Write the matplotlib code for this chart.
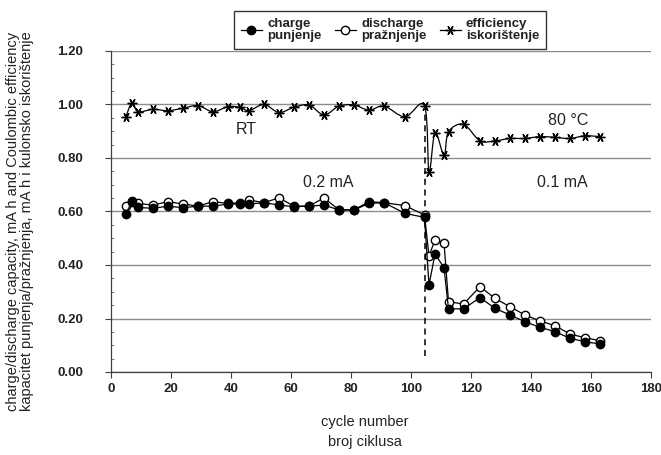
import matplotlib
matplotlib.use('Agg')
import matplotlib.pyplot as plt
from matplotlib.path import Path
from matplotlib.patches import PathPatch
from matplotlib.lines import Line2D
from matplotlib.ticker import MultipleLocator, FormatStrFormatter

plt.rcParams['font.family'] = ['Liberation Sans', 'DejaVu Sans']

# cycle numbers where charge / discharge / efficiency were recorded
cycles = [5, 7, 9, 14, 19, 24, 29, 34, 39, 43, 46, 51, 56, 61, 66, 71, 76, 81,
          86, 91, 98, 104.5, 106, 108, 111, 112.5, 117.5, 123, 128, 133, 138,
          143, 148, 153, 158, 163]

charge = [0.590, 0.641, 0.615, 0.612, 0.620, 0.614, 0.620, 0.620, 0.628, 0.628,
          0.628, 0.633, 0.624, 0.618, 0.620, 0.624, 0.606, 0.606, 0.630, 0.633,
          0.593, 0.578, 0.325, 0.441, 0.390, 0.236, 0.236, 0.278, 0.238, 0.213,
          0.188, 0.167, 0.151, 0.126, 0.113, 0.105]

discharge = [0.620, 0.635, 0.630, 0.624, 0.637, 0.628, 0.620, 0.637, 0.630, 0.633,
             0.643, 0.633, 0.651, 0.620, 0.620, 0.651, 0.606, 0.606, 0.637, 0.633,
             0.622, 0.587, 0.434, 0.493, 0.483, 0.263, 0.254, 0.319, 0.275, 0.244,
             0.213, 0.191, 0.173, 0.142, 0.128, 0.117]

efficiency = [0.955, 1.007, 0.973, 0.982, 0.977, 0.986, 0.996, 0.973, 0.992, 0.989,
              0.977, 1.000, 0.970, 0.990, 0.998, 0.961, 0.994, 0.998, 0.979, 0.994,
              0.954, 0.995, 0.749, 0.895, 0.811, 0.898, 0.926, 0.864, 0.864, 0.873,
              0.873, 0.880, 0.877, 0.873, 0.883, 0.880]

switch_cycle = 104.5


def smooth_path(x, y):
    # bezier curve through every point, like a spreadsheet "smoothed line"
    verts = [(x[0], y[0])]
    codes = [Path.MOVETO]
    n = len(x)
    for i in range(n - 1):
        xp, yp = (x[i - 1], y[i - 1]) if i > 0 else (x[i], y[i])
        xn, yn = (x[i + 2], y[i + 2]) if i + 2 < n else (x[i + 1], y[i + 1])
        c1 = (x[i] + (x[i + 1] - xp) / 6, y[i] + (y[i + 1] - yp) / 6)
        c2 = (x[i + 1] - (xn - x[i]) / 6, y[i + 1] - (yn - y[i]) / 6)
        verts += [c1, c2, (x[i + 1], y[i + 1])]
        codes += [Path.CURVE4] * 3
    return Path(verts, codes)


fig = plt.figure(figsize=(6.61, 4.55), dpi=100)
ax = fig.add_axes([111 / 661, 1 - 372 / 455, (651 - 111) / 661, (372 - 51) / 455])

ax.set_xlim(0, 180)
ax.set_ylim(0, 1.2)
ax.xaxis.set_major_locator(MultipleLocator(20))
ax.yaxis.set_major_locator(MultipleLocator(0.2))
ax.yaxis.set_minor_locator(MultipleLocator(0.05))
ax.yaxis.set_major_formatter(FormatStrFormatter('%.2f'))
ax.grid(axis='y', color='#8c8c8c', linewidth=1.0)
ax.set_axisbelow(True)
for s in ['top', 'right']:
    ax.spines[s].set_visible(False)
for s in ['left', 'bottom']:
    ax.spines[s].set_color('#404040')
    ax.spines[s].set_linewidth(0.9)
ax.tick_params(axis='both', which='major', direction='out', length=4,
               color='#404040', labelsize=9.5)
ax.tick_params(axis='y', which='major', pad=16)
ax.tick_params(axis='x', which='major', pad=4)
ax.tick_params(axis='y', which='minor', direction='in', length=2, color='#606060')
for lab in ax.get_xticklabels() + ax.get_yticklabels():
    lab.set_fontweight('bold')
    lab.set_color('#222222')

# vertical marker where temperature / current changed
ax.vlines(switch_cycle, 0.06, 1.0, colors='black', linestyles=(0, (4, 3)), linewidth=1.1)

# capacity series
ax.plot(cycles, discharge, color='black', linewidth=0.9, marker='o', markersize=6,
        markerfacecolor='white', markeredgecolor='black', markeredgewidth=1.0, zorder=3)
ax.plot(cycles, charge, color='black', linewidth=0.9, marker='o', markersize=6,
        markerfacecolor='black', markeredgecolor='black', zorder=4)

# efficiency: smoothed line + star markers
ax.add_patch(PathPatch(smooth_path(cycles, efficiency), facecolor='none',
                       edgecolor='black', linewidth=0.9, zorder=3))
star = (6, 2, 90)
ax.plot(cycles, efficiency, linestyle='none', marker=star, markersize=7,
        markeredgecolor='black', markeredgewidth=1.0, zorder=4)

# region labels
txt = dict(fontsize=11.5, color='#222222', ha='center', va='center')
ax.text(45, 0.905, 'RT', **txt)
ax.text(72.5, 0.71, '0.2 mA', **txt)
ax.text(152.5, 0.94, '80 °C', **txt)
ax.text(150.5, 0.71, '0.1 mA', **txt)

fig.text(20 / 661, 1 - 221 / 455,
         'charge/discharge capacity, mA h and Coulombic efficiency\n'
         'kapacitet punjenja/pražnjenja, mA h i kulonsko iskorištenje',
         rotation=90, ha='center', va='center', fontsize=10.5, linespacing=1.05,
         multialignment='center', color='#222222')
fig.text(365 / 661, 1 - 432 / 455, 'cycle number\nbroj ciklusa',
         ha='center', va='center', fontsize=10.5, linespacing=1.5, color='#222222')

handles = [
    Line2D([], [], color='black', linewidth=0.9, marker='o', markersize=6,
           markerfacecolor='black'),
    Line2D([], [], color='black', linewidth=0.9, marker='o', markersize=6,
           markerfacecolor='white'),
    Line2D([], [], color='black', linewidth=0.9, marker=star, markersize=7),
]
labels = ['charge\npunjenje', 'discharge\npražnjenje', 'efficiency\niskorištenje']
leg = fig.legend(handles, labels, loc='center', bbox_to_anchor=(390 / 661, 1 - 30 / 455),
                 ncol=3, frameon=True, fancybox=False, handlelength=1.6,
                 handletextpad=0.4, columnspacing=1.0, borderpad=0.5,
                 prop={'weight': 'bold', 'size': 9.5})
leg.get_frame().set_edgecolor('black')
leg.get_frame().set_linewidth(1.0)
for t in leg.get_texts():
    t.set_linespacing(1.05)
    t.set_color('#222222')

fig.savefig('out.png', dpi=100)
